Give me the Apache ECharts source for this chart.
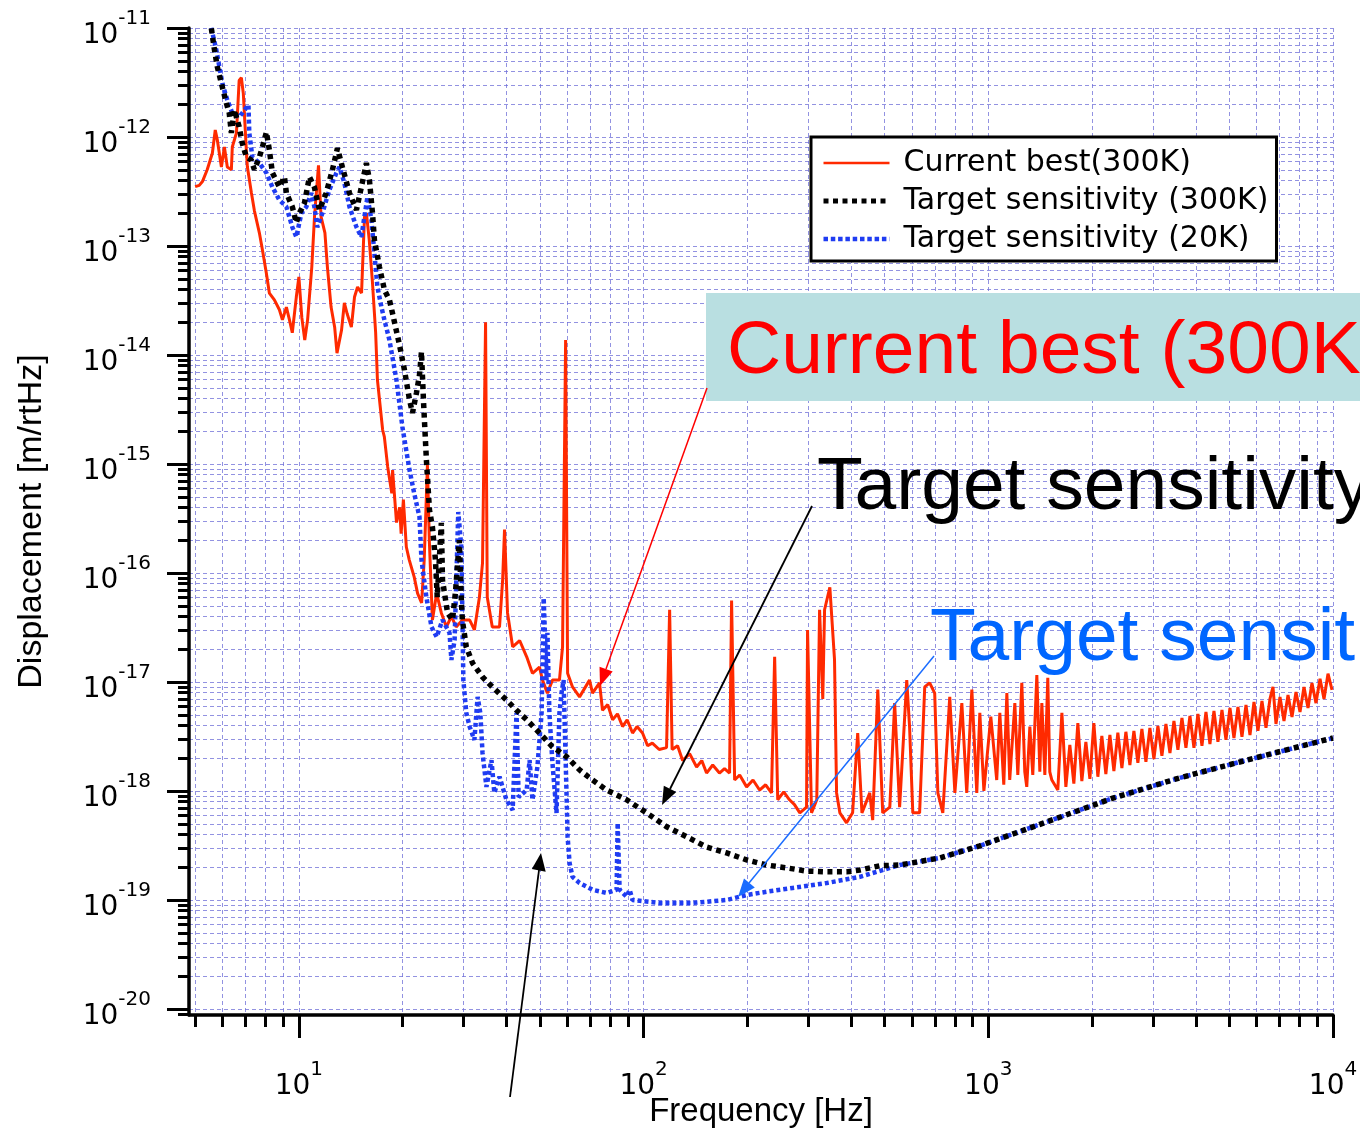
<!DOCTYPE html>
<html><head><meta charset="utf-8">
<script src="https://cdn.jsdelivr.net/npm/echarts@6/dist/echarts.min.js"></script>
<style>html,body{margin:0;padding:0;background:#fff}#c{width:1360px;height:1132px}</style>
</head><body><div id="c"></div>
<script>
// ---------- data (Hz, m/rtHz) ----------
const redFreq = [
5.0,5.14,5.25,5.42,5.61,5.72,5.80,5.96,6.08,6.20,
6.37,6.41,6.59,6.71,6.81,6.90,7.04,7.09,7.28,7.43,
7.68,7.84,8.05,8.21,8.49,8.78,8.96,9.2,9.39,9.57,
9.83,10.0,10.2,10.4,10.6,10.9,11.1,11.4,11.6,11.9,
12.1,12.4,12.7,12.9,13.3,13.55,13.8,14.2,14.5,14.8,
15.2,15.5,15.7,16.0,16.35,16.7,16.9,17.5,17.7,18.1,
18.6,18.7,19.2,19.6,19.8,20.1,20.5,20.9,21.6,22.1,
22.7,23.1,23.6,23.9,24.4,25.1,25.9,26.8,27.7,28.6,
29.8,31.3,32.3,33.4,34.1,34.8,35.2,36.4,38.2,39.0,
39.5,40.3,41.7,43.7,45.8,47.6,49.9,50.9,52.6,54.4,
57.0,58.2,59.4,60.2,62.2,65.2,69.7,71.1,74.5,76.0,
78.7,81.3,84.0,86.9,89.6,92.9,95.7,99.3,102.7,106,
111,116.6,119,121,125.5,129.8,136,142.5,147.5,152.3,
158.7,166,171.7,177.6,180,183.7,190,199,207.7,217,
226,235,240,245,255,265,274,284,297,299,
307,318,324,331,335,347,351,358,363,371,
388,404,418,430,453,462,478,494,518,535,
553,580,591,604,632,654,676,699,714,738,
773,800,838,866,896,926,945,971,1017,1058,
1080,1109,1132,1154,1194,1218,1251,1276,1293,1320,
1346,1383,1411,1430,1459,1488,1508,1529,
1591,1635,1679,1724,1771,1819,1868,1919,1971,2024,
2079,2135,2193,2253,2314,2376,2441,2507,2575,2645,
2716,2790,2866,2943,3023,3105,3189,3276,3365,3456,
3549,3646,3744,3846,3950,4057,4167,4280,4395,4515,
4637,4763,4892,5024,5160,5300,5444,5592,5743,5899,
6058,6222,6391,6564,6697,6833,7018,7208,7404,7604,
7810,8022,8239,8462,8690,8925,9170,9417,9672,9933];
const redDisp = [
3.5e-13,3.6e-13,3.9e-13,5.0e-13,7.1e-13,1.16e-12,9.4e-13,5.3e-13,8.1e-13,5.3e-13,
5.0e-13,8.1e-13,1.09e-12,3.3e-12,3.5e-12,2.5e-12,7.6e-13,5.3e-13,3.1e-13,2.1e-13,
1.32e-13,9.2e-14,5.6e-14,3.7e-14,3.2e-14,2.6e-14,2.1e-14,2.75e-14,2.1e-14,1.6e-14,
3.4e-14,5.2e-14,2.2e-14,1.37e-14,2.1e-14,6.4e-14,1.85e-13,5.5e-13,1.85e-13,1.32e-13,
6.4e-14,2.75e-14,1.8e-14,1.04e-14,1.7e-14,3.0e-14,2.4e-14,1.8e-14,3.4e-14,4.2e-14,
3.7e-14,1.85e-13,2.0e-13,1.14e-13,4.6e-14,1.6e-14,5.9e-15,2.05e-15,1.77e-15,9.4e-16,
5.4e-16,8.8e-16,2.9e-16,4.0e-16,2.3e-16,4.7e-16,1.73e-16,1.32e-16,9.2e-17,6.5e-17,
5.3e-17,1.32e-16,9.8e-16,2.0e-16,3.7e-17,6.5e-17,4.3e-17,3.2e-17,4.0e-17,3.2e-17,
3.7e-17,3.7e-17,3.0e-17,6.0e-17,1.24e-16,2.0e-14,6.0e-17,3.2e-17,3.2e-17,8.6e-17,
2.5e-16,4.3e-17,2.1e-17,2.4e-17,1.7e-17,1.2e-17,1.37e-17,1.04e-17,7.9e-18,1.04e-17,
1.04e-17,2.1e-17,1.37e-14,1.2e-17,9.0e-18,7.3e-18,1.04e-17,7.9e-18,9.8e-18,5.5e-18,
6.2e-18,4.5e-18,5.1e-18,3.9e-18,4.5e-18,3.4e-18,3.9e-18,3.4e-18,2.6e-18,2.75e-18,
2.4e-18,2.5e-18,4.6e-17,2.4e-18,2.6e-18,1.9e-18,2.2e-18,1.66e-18,1.9e-18,1.46e-18,
1.73e-18,1.46e-18,1.6e-18,1.46e-18,5.6e-17,1.26e-18,1.4e-18,1.09e-18,1.26e-18,1.02e-18,
1.14e-18,9.6e-19,1.7e-17,8.3e-19,9.8e-19,8.3e-19,7.5e-19,6.3e-19,7.1e-19,3.0e-17,
6.3e-19,8.3e-19,4.6e-17,7.0e-18,4.6e-17,7.4e-17,7.4e-17,1.6e-17,9.6e-19,6.3e-19,
5.1e-19,6.3e-19,3.4e-18,6.3e-19,9.6e-19,5.4e-19,8.5e-18,6.3e-19,7.1e-19,6.4e-18,
7.1e-19,1.04e-17,3.9e-18,6.3e-19,6.3e-19,9.0e-18,9.8e-18,7.9e-18,9.6e-19,6.3e-19,
7.3e-18,9.6e-19,6.4e-18,9.6e-19,8.5e-18,9.6e-19,5.2e-18,1.0e-18,4.8e-18,1.26e-18,
5.2e-18,1.14e-18,7.9e-18,1.26e-18,6.4e-18,1.4e-18,9.8e-18,1.5e-18,1.09e-18,3.9e-18,
1.4e-18,1.16e-17,1.5e-18,6.4e-18,1.4e-18,1.09e-17,1.5e-18,1.26e-18,
1.02e-18,5.2e-18,1.09e-18,2.64e-18,1.17e-18,4.2e-18,1.23e-18,2.82e-18,1.29e-18,4.2e-18,
1.35e-18,3.2e-18,1.43e-18,3.26e-18,1.52e-18,3.42e-18,1.62e-18,3.49e-18,1.73e-18,3.56e-18,
1.81e-18,3.7e-18,1.85e-18,3.79e-18,1.96e-18,3.95e-18,2.1e-18,4.12e-18,2.23e-18,4.39e-18,
2.38e-18,4.68e-18,2.49e-18,4.88e-18,2.49e-18,5.09e-18,2.59e-18,5.31e-18,2.7e-18,5.42e-18,
2.82e-18,5.53e-18,2.94e-18,5.77e-18,3.06e-18,5.9e-18,3.14e-18,6.15e-18,3.26e-18,6.55e-18,
3.56e-18,6.69e-18,3.79e-18,6.98e-18,9.0e-18,4.12e-18,7.28e-18,4.39e-18,7.6e-18,4.77e-18,
8.1e-18,5.31e-18,9.0e-18,5.77e-18,9.8e-18,6.4e-18,1.07e-17,6.98e-18,1.19e-17,8.45e-18];

const t300Freq = [
5.43,5.57,5.69,5.80,5.96,6.16,6.28,6.37,6.50,6.71,
6.85,7.04,7.28,7.43,7.68,7.84,8.05,8.21,8.38,8.78,
9.08,9.2,9.57,9.83,10.03,10.38,10.73,11.09,11.47,12.0,
12.51,12.94,13.37,14.02,14.69,15.18,15.70,16.02,16.35,16.56,
17.13,17.71,18.31,18.68,19.58,20.24,20.94,21.36,21.93,22.38,
22.68,22.98,23.44,23.92,24.4,24.9,25.2,25.9,26.1,27.0,
27.9,28.5,29.2,29.6,29.8,30.6,31.9,34.1,36.4,40.0,
42.8,45.8,49.9,54.4,59.8,65.2,71.1,78.1,89.3,102,
116.6,133.3,152.3,174.2,199,227.5,260,297,340,388,
424,484,553,723,945,1478,2298,3596,5628,8749,
10000];
const t300Disp = [
1.8e-11,1.0e-11,6.3e-12,4.4e-12,3.1e-12,2.05e-12,1.66e-12,1.09e-12,1.77e-12,1.24e-12,
8.8e-13,6.55e-13,6.15e-13,5.0e-13,6.55e-13,8.1e-13,1.11e-12,7.6e-13,4.7e-13,3.47e-13,
4.3e-13,3.06e-13,2.29e-13,1.63e-13,2.0e-13,2.48e-13,4.3e-13,3.47e-13,2.14e-13,3.06e-13,
5.0e-13,7.9e-13,5.3e-13,3.06e-13,2.14e-13,3.47e-13,5.77e-13,4.03e-13,2.0e-13,1.14e-13,
6.4e-14,3.95e-14,3.2e-14,2.43e-14,1.24e-14,7.3e-15,3.87e-15,2.94e-15,4.48e-15,6.55e-15,
1.07e-14,3.87e-15,1.09e-15,3.8e-16,2.64e-16,1.32e-16,6.0e-17,2.88e-16,8.6e-17,4.3e-17,
3.7e-17,7.0e-17,2.0e-16,5.65e-17,3.7e-17,2.1e-17,1.49e-17,1.11e-17,9.0e-18,6.84e-18,
5.5e-18,4.5e-18,3.4e-18,2.54e-18,2.06e-18,1.56e-18,1.26e-18,1.02e-18,8.3e-19,6.3e-19,
4.7e-19,3.8e-19,3.06e-19,2.7e-19,2.33e-19,2.09e-19,1.97e-19,1.84e-19,1.81e-19,1.81e-19,
1.88e-19,2.06e-19,2.09e-19,2.43e-19,3.14e-19,5.2e-19,8.6e-19,1.32e-18,1.92e-18,2.75e-18,
3.06e-18];

const t20Freq = [
5.43,5.57,5.76,6.0,6.20,6.41,6.71,7.14,7.18,7.33,
7.68,8.05,8.38,8.78,9.2,9.57,9.83,10.17,10.51,10.87,
11.09,11.31,11.7,12.26,12.85,13.11,13.55,14.02,14.69,15.18,
15.49,15.81,16.24,16.56,16.9,17.36,17.71,18.31,19.19,19.97,
20.94,21.6,22.38,22.68,23.44,24.25,25.1,26.1,27.35,27.7,
28.3,29.0,29.6,29.8,30.0,30.6,31.3,32.3,33.0,33.6,
34.1,35.0,36.2,36.9,38.2,40.0,41.7,42.8,43.4,45.8,
46.7,47.6,49.2,50.6,51.3,52.3,52.6,53.3,54.4,55.9,
57.0,57.8,58.6,59.8,60.2,61.0,62.2,65.2,71.1,78.1,
83.5,84.1,85.2,89.3,91.1,92.9,111.3,138.8,174.2,199,
227.5,270.7,340,424,553,723,945,1478,2298,3596,
5628,8749,10000];
const t20Disp = [
1.8e-11,1.0e-11,6.3e-12,3.1e-12,2.18e-12,1.66e-12,1.52e-12,1.97e-12,1.09e-12,6.55e-13,
5.77e-13,4.68e-13,3.47e-13,2.64e-13,2.29e-13,1.49e-13,1.21e-13,2.0e-13,2.29e-13,3.06e-13,
2.29e-13,1.49e-13,2.0e-13,3.27e-13,4.68e-13,5.31e-13,3.79e-13,2.29e-13,1.49e-13,1.21e-13,
1.85e-13,2.82e-13,1.73e-13,8.6e-14,4.2e-14,2.75e-14,2.09e-14,1.37e-14,5.9e-15,2.18e-15,
8.8e-16,5.4e-16,3.27e-16,1.32e-16,6.0e-17,3.2e-17,2.59e-17,3.71e-17,2.82e-17,1.59e-17,
2.43e-17,3.63e-16,1.73e-16,4.3e-17,1.04e-17,5.2e-18,3.87e-18,2.94e-18,7.3e-18,5.2e-18,
2.23e-18,1.09e-18,1.92e-18,9.6e-19,1.35e-18,8.27e-19,6.69e-19,5.2e-18,8.81e-19,1.02e-18,
1.92e-18,8.27e-19,1.66e-18,5.2e-18,5.9e-17,1.04e-17,2.82e-17,5.2e-18,1.81e-18,6.28e-19,
5.2e-18,7.93e-18,1.04e-17,8.81e-19,3.79e-19,2.18e-19,1.63e-19,1.43e-19,1.24e-19,1.16e-19,
1.24e-19,5.08e-19,1.24e-19,1.07e-19,1.24e-19,1.0e-19,9.39e-20,9.39e-20,1.0e-19,1.11e-19,
1.19e-19,1.29e-19,1.43e-19,1.63e-19,2.09e-19,2.43e-19,3.14e-19,5.2e-19,8.6e-19,1.32e-18,
1.92e-18,2.75e-18,3.06e-18];

const seriesNames = ['Current best(300K)', 'Target sensitivity (300K)', 'Target sensitivity (20K)'];
const xTickExponents = [1, 2, 3, 4];
const yTickExponents = [-20, -19, -18, -17, -16, -15, -14, -13, -12, -11];
const decadeMultipliers = [1, 2, 3, 4, 5, 6, 7, 8, 9];
const xRangeHz = [4.8, 1e4];
const yRange = [8.8e-21, 1e-11];

// ---------- build ----------
const L = Math.log10;
const pts = (f, d) => f.map((v, i) => [L(v), L(d[i])]);
function gridValues(lo, hi) {
  const out = [];
  for (let n = Math.floor(lo); n <= Math.ceil(hi); n++)
    for (const k of decadeMultipliers) {
      const v = n + L(k);
      if (v >= lo - 1e-9 && v <= hi + 1e-9) out.push(v);
    }
  return out;
}
const xLo = L(xRangeHz[0]), xHi = L(xRangeHz[1]);
const yLo = L(yRange[0]), yHi = L(yRange[1]);
const fmt = v => '{b|10}{e|' + Math.round(v) + '}';
const FONT = 'DejaVu Sans';
const gridLine = { show: true, lineStyle: { color: 'rgba(110,110,215,0.75)', width: 1, type: [4, 3] } };
const tickStyle = { color: '#000', width: 3 };
const RED = '#ff2a00', BLUE = '#1f3cf2';
const redLine = { color: RED, width: 3 };
const blackLine = { color: '#000', width: 5.5, type: [5, 4.5] };
const blueLine = { color: BLUE, width: 4.5, type: [4, 3] };

const chart = echarts.init(document.getElementById('c'), null, { renderer: 'canvas' });
chart.setOption({
  animation: false,
  backgroundColor: '#fff',
  grid: { left: 189, right: 27, top: 28, bottom: 117, containLabel: false, outerBoundsMode: 'none' },
  xAxis: [
    { type: 'value', min: xLo, max: xHi, position: 'bottom',
      axisLine: { show: true, onZero: false, lineStyle: { color: '#000', width: 3.5 } },
      axisTick: { show: true, customValues: xTickExponents, length: 23, lineStyle: tickStyle },
      axisLabel: { show: true, customValues: xTickExponents, formatter: fmt, margin: 45,
        rich: { b: { fontFamily: FONT, fontSize: 28, color: '#000', padding: [13, 0, 0, 0], verticalAlign: 'middle' },
                e: { fontFamily: FONT, fontSize: 20, color: '#000', padding: [0, 0, 21, 0], verticalAlign: 'middle' } } },
      splitLine: { show: false },
      name: 'Frequency [Hz]', nameLocation: 'middle', nameGap: 80, nameMoveOverlap: false,
      nameTextStyle: { fontFamily: 'Liberation Sans', fontSize: 33, color: '#000', verticalAlign: 'top' } },
    { type: 'value', min: xLo, max: xHi, position: 'bottom',
      axisLine: { show: false, onZero: false },
      axisTick: { show: true, customValues: gridValues(xLo, xHi), length: 12, lineStyle: tickStyle },
      axisLabel: { show: false },
      splitLine: gridLine }
  ],
  yAxis: [
    { type: 'value', min: yLo, max: yHi, position: 'left',
      axisLine: { show: true, onZero: false, lineStyle: { color: '#000', width: 3.5 } },
      axisTick: { show: true, customValues: yTickExponents, length: 22, lineStyle: tickStyle },
      axisLabel: { show: true, customValues: yTickExponents, formatter: fmt, margin: 38,
        rich: { b: { fontFamily: FONT, fontSize: 28, color: '#000', padding: [16, 0, 0, 0], verticalAlign: 'middle' },
                e: { fontFamily: FONT, fontSize: 20, color: '#000', padding: [0, 0, 18, 0], verticalAlign: 'middle' } } },
      splitLine: { show: false },
      name: 'Displacement [m/rtHz]', nameLocation: 'middle', nameGap: 140, nameRotate: 90,
      nameTextStyle: { fontFamily: 'Liberation Sans', fontSize: 34, color: '#000' } },
    { type: 'value', min: yLo, max: yHi, position: 'left',
      axisLine: { show: false, onZero: false },
      axisTick: { show: true, customValues: gridValues(yLo, yHi), length: 11, lineStyle: tickStyle },
      axisLabel: { show: false },
      splitLine: gridLine }
  ],
  legend: {
    data: [
      { name: seriesNames[0], lineStyle: { color: RED, width: 2.5 }, itemStyle: { opacity: 0 } },
      { name: seriesNames[1], lineStyle: { color: '#000', width: 5, type: [5, 4.5] }, itemStyle: { opacity: 0 } },
      { name: seriesNames[2], lineStyle: { color: BLUE, width: 4.5, type: [4.5, 2.8] }, itemStyle: { opacity: 0 } }
    ],
    orient: 'vertical', left: 811, top: 137,
    padding: [11, 8, 7, 10], itemWidth: 66, itemHeight: 14, itemGap: 8,
    backgroundColor: '#fff', borderColor: '#000', borderWidth: 3, borderRadius: 0,
    selectedMode: false,
    itemStyle: { opacity: 0 },
    textStyle: { fontFamily: FONT, fontSize: 30, color: '#000', lineHeight: 30, padding: [0, 0, 0, 9] }
  },
  series: [
    { name: seriesNames[0], type: 'line', data: pts(redFreq, redDisp), showSymbol: false, symbol: 'none',
      lineStyle: redLine, itemStyle: { color: RED }, z: 2 },
    { name: seriesNames[1], type: 'line', data: pts(t300Freq, t300Disp), showSymbol: false, symbol: 'none',
      lineStyle: blackLine, itemStyle: { color: '#000' }, z: 4 },
    { name: seriesNames[2], type: 'line', data: pts(t20Freq, t20Disp), showSymbol: false, symbol: 'none',
      lineStyle: blueLine, itemStyle: { color: BLUE }, z: 3 }
  ],
  graphic: [
    { type: 'rect', z: 100, shape: { x: 706, y: 293, width: 700, height: 108 }, style: { fill: '#b9dfe1' } },
    { type: 'text', z: 101, x: 727, y: 315, style: { text: 'Current best (300K)', font: '75px "Liberation Sans"', fill: '#ff0000', align: 'left', verticalAlign: 'top' } },
    { type: 'text', z: 101, x: 817, y: 451, style: { text: 'Target sensitivity (300K)', font: '75px "Liberation Sans"', fill: '#000000', align: 'left', verticalAlign: 'top' } },
    { type: 'text', z: 101, x: 930, y: 602, style: { text: 'Target sensitivity (20K)', font: '75px "Liberation Sans"', fill: '#0066ff', align: 'left', verticalAlign: 'top' } },
    { type: 'line', z: 101, shape: { x1: 707, y1: 388, x2: 606, y2: 669 }, style: { stroke: '#ff0000', lineWidth: 1.5 } },
    { type: 'polygon', z: 101, shape: { points: [[600, 686], [612.7, 671.5], [599.5, 666.7]] }, style: { fill: '#ff0000' } },
    { type: 'line', z: 101, shape: { x1: 812, y1: 506, x2: 670, y2: 789 }, style: { stroke: '#000', lineWidth: 1.8 } },
    { type: 'polygon', z: 101, shape: { points: [[662, 805], [676.3, 792.0], [663.8, 785.8]] }, style: { fill: '#000' } },
    { type: 'line', z: 101, shape: { x1: 934, y1: 656, x2: 749, y2: 883 }, style: { stroke: '#1a6cff', lineWidth: 1.5 } },
    { type: 'polygon', z: 101, shape: { points: [[738, 897], [754.8, 887.4], [744.0, 878.6]] }, style: { fill: '#1a6cff' } },
    { type: 'line', z: 101, shape: { x1: 510, y1: 1097, x2: 539, y2: 870 }, style: { stroke: '#000', lineWidth: 1.8 } },
    { type: 'polygon', z: 101, shape: { points: [[541, 853], [545.7, 871.8], [531.8, 869.0]] }, style: { fill: '#000' } }
  ]
});
</script>
</body></html>
